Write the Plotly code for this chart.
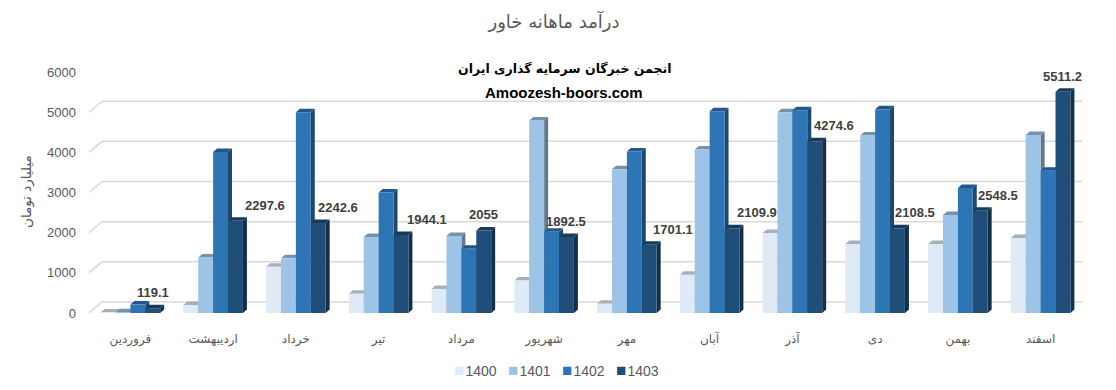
import plotly.graph_objects as go

months = ["فروردین", "اردیبهشت", "خرداد", "تیر", "مرداد", "شهریور",
          "مهر", "آبان", "آذر", "دی", "بهمن", "اسفند"]
years = ["1400", "1401", "1402", "1403"]
v1400 = [15, 200, 1150, 480, 600, 810, 230, 950, 1990, 1720, 1720, 1870]
v1401 = [20, 1380, 1360, 1890, 1920, 4790, 3580, 4070, 5000, 4420, 2440, 4430]
v1402 = [210, 4010, 5000, 3000, 1600, 2020, 4020, 5020, 5050, 5070, 3110, 3540]
v1403 = [119.1, 2297.6, 2242.6, 1944.1, 2055, 1892.5, 1701.1, 2109.9,
         4274.6, 2108.5, 2548.5, 5511.2]
y_ticks = [0, 1000, 2000, 3000, 4000, 5000, 6000]

title_text = "درآمد ماهانه خاور"
wm1 = "انجمن خبرگان سرمایه گذاری ایران"
wm2 = "Amoozesh-boors.com"
y_title = "میلیارد تومان"

# styling
colors = ["#DEEBF7", "#9DC3E6", "#2E75B6", "#1F4E79"]
label_xshift = [0, 30, 20, 26, 0, 0, 24, 25, 19, 18, 18, 0]

W, H = 1116, 390
L, R, T, B = 89, 34, 72, 77
plot_w = W - L - R
plot_h = H - T - B
ymax = 6000
nx = len(months)
bw = 0.18
px_x = nx / plot_w          # data units per pixel (x)
px_y = ymax / plot_h        # data units per pixel (y)
dx, dy = 4 * px_x, 3.5 * px_y
gdx, gdy = 13 * px_x, 11 * px_y


def shade(hexc, f):
    h = hexc.lstrip("#")
    r, g, b = (int(h[i:i + 2], 16) for i in (0, 2, 4))
    return "#%02x%02x%02x" % (int(r * f), int(g * f), int(b * f))


series = [v1400, v1401, v1402, v1403]
fig = go.Figure()
shapes = []

# back-wall gridlines (3D perspective)
x0 = -0.5
x_end = nx - 0.5
for t in y_ticks:
    shapes.append(dict(type="path", layer="below", xref="x", yref="y",
                       path=f"M {x0},{t} L {x0+gdx},{t+gdy} L {x_end},{t+gdy}",
                       line=dict(color="#D9D9D9", width=1.5)))

for k, (name, vals) in enumerate(zip(years, series)):
    xs = [i + (k - 1.5) * bw for i in range(nx)]
    fig.add_trace(go.Bar(x=xs, y=vals, width=bw, name=name, showlegend=False,
                         marker=dict(color=colors[k], line=dict(width=0))))
    for x, v in zip(xs, vals):
        xl, xr = x - bw / 2, x + bw / 2
        shapes.append(dict(type="path", layer="between", xref="x", yref="y",
                           path=f"M {xr},0 L {xr},{v} L {xr+dx},{v+dy} L {xr+dx},{dy} Z",
                           fillcolor=shade(colors[k], 0.62), line=dict(width=0)))
        shapes.append(dict(type="path", layer="between", xref="x", yref="y",
                           path=f"M {xl},{v} L {xr},{v} L {xr+dx},{v+dy} L {xl+dx},{v+dy} Z",
                           fillcolor=shade(colors[k], 0.75), line=dict(width=0)))

annotations = []
for i, v in enumerate(v1403):
    annotations.append(dict(x=i + 1.5 * bw, y=v, xref="x", yref="y",
                            text=f"{v:g}", showarrow=False, yanchor="bottom",
                            xanchor="center",
                            xshift=label_xshift[i], yshift=6,
                            font=dict(family="Liberation Sans", size=13,
                                      color="#404040", weight="bold")))


def paper_x(px):
    return (px - L) / plot_w


def paper_y(py):
    return (H - B - py) / plot_h


annotations.append(dict(x=paper_x(564), y=paper_y(68), xref="paper", yref="paper",
                        text=wm1, showarrow=False, xanchor="center", yanchor="middle",
                        font=dict(family="DejaVu Sans", size=12.5, color="#000000",
                                  weight="bold")))
annotations.append(dict(x=paper_x(564), y=paper_y(92), xref="paper", yref="paper",
                        text=wm2, showarrow=False, xanchor="center", yanchor="middle",
                        font=dict(family="Liberation Sans", size=15, color="#000000",
                                  weight="bold")))
annotations.append(dict(x=paper_x(26), y=paper_y(192), xref="paper", yref="paper",
                        text=y_title, showarrow=False, textangle=-90,
                        xanchor="center", yanchor="middle",
                        font=dict(family="DejaVu Sans", size=13.5, color="#595959")))

# legend row
for k, (c, yname) in enumerate(zip(colors, years)):
    annotations.append(dict(x=paper_x(452 + k * 54), y=paper_y(370),
                            xref="paper", yref="paper", showarrow=False,
                            xanchor="left", yanchor="middle",
                            text=(f"<span style='color:{c};font-size:17px'>■</span>"
                                  f"<span style='font-size:4px'> </span>{yname}"),
                            font=dict(family="Liberation Sans", size=14,
                                      color="#595959")))

fig.update_layout(
    width=W, height=H,
    margin=dict(l=L, r=R, t=T, b=B, autoexpand=False),
    paper_bgcolor="white", plot_bgcolor="white",
    barmode="overlay",
    title=dict(text=title_text, x=554 / W, xref="container", xanchor="center",
               y=1 - 22 / H, yanchor="middle",
               font=dict(family="DejaVu Sans", size=18, color="#595959")),
    xaxis=dict(range=[x0, x_end], tickvals=list(range(nx)),
               ticktext=months, showgrid=False, zeroline=False, showline=False,
               ticks="", ticklabelstandoff=17,
               tickfont=dict(family="DejaVu Sans", size=12, color="#595959")),
    yaxis=dict(range=[0, ymax], tickvals=y_ticks, showgrid=False,
               zeroline=False, showline=False,
               ticks="", ticklabelstandoff=12,
               tickfont=dict(family="Liberation Sans", size=13, color="#595959")),
    shapes=shapes, annotations=annotations,
    showlegend=False,
)

fig.write_html("out.html")
